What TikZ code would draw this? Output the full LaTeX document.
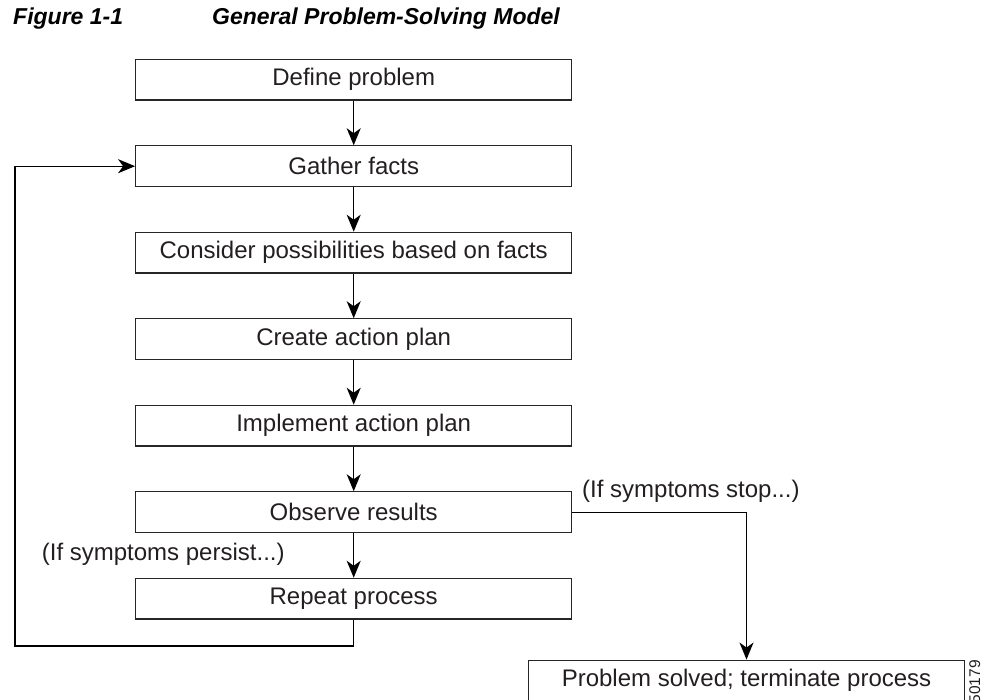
\documentclass[tikz,border=0pt]{standalone}
\usepackage{fontspec}
\setmainfont{Liberation Sans}
\usetikzlibrary{arrows.meta}
\definecolor{ink}{HTML}{231F20}
\tikzset{
  stepbox/.style={draw=black!85, line width=1.2pt, minimum width=436pt, minimum height=40.7pt,
    inner sep=0pt, font=\fontsize{24}{28}\selectfont, text=ink},
  lbl/.style={inner sep=0pt, anchor=base west, font=\fontsize{24}{28}\selectfont, text=ink},
  ttl/.style={inner sep=0pt, anchor=base west, font=\fontsize{23}{28}\selectfont\bfseries\itshape, text=black},
  conn/.style={draw=black, line width=1.3pt, -{Stealth[length=17pt,width=14pt,inset=5pt]}},
  plain/.style={draw=black, line width=1.3pt}
}
\begin{document}
\begin{tikzpicture}[x=1pt,y=-1pt]
\useasboundingbox (0,0) rectangle (982,700);
\node[ttl] (t1) at (13,25) {Figure 1-1};
\node[ttl] (t2) at (212,25) {General Problem-Solving Model};

\node[stepbox] (def) at (353.7,79.7) {Define problem};
\node[stepbox] (gat) at (353.7,166.2) {Gather facts};
\node[stepbox] (con) at (353.7,252.7) {Consider possibilities based on facts};
\node[stepbox] (cre) at (353.7,339.2) {Create action plan};
\node[stepbox] (imp) at (353.7,425.7) {Implement action plan};
\node[stepbox] (obs) at (353.7,512.2) {Observe results};
\node[stepbox] (rep) at (353.7,598.7) {Repeat process};
\node[stepbox] (sol) at (746.5,680.5) {Problem solved; terminate process};

\draw[conn] (def) -- (gat);
\draw[conn] (gat) -- (con);
\draw[conn] (con) -- (cre);
\draw[conn] (cre) -- (imp);
\draw[conn] (imp) -- (obs);
\draw[conn] (obs) -- (rep);

\coordinate (lb) at (353.7,646);
\coordinate (ll) at (15,646);
\draw[conn] (rep.south) -- (lb) -- (ll) |- (gat.west);

\coordinate (sr) at (746.5,512.2);
\draw[conn] (obs.east) -- (sr) -- (sol.north);

\node[lbl] (persist) at (41.7,560) {(If symptoms persist...)};
\node[lbl] (stop) at (582,497) {(If symptoms stop...)};

\node[inner sep=0pt, anchor=base east, rotate=90, font=\fontsize{15.5}{18}\selectfont, text=ink] (id) at (980,660) {50179};
\end{tikzpicture}
\end{document}
